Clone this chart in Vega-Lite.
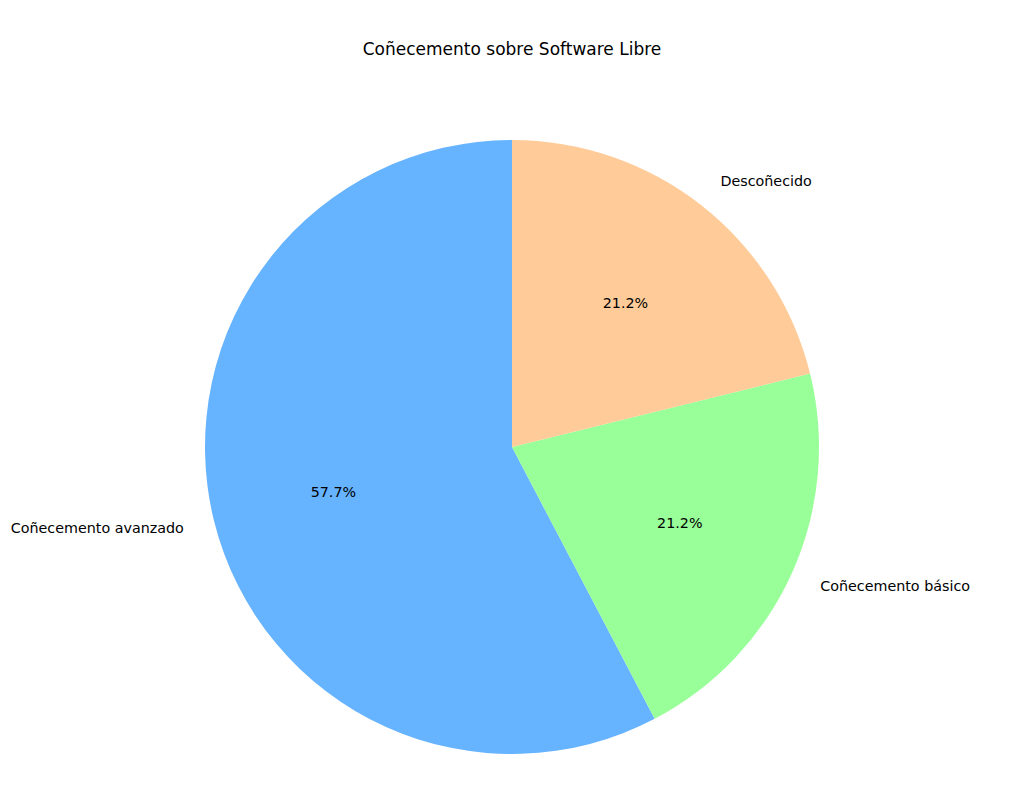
{
  "$schema": "https://vega.github.io/schema/vega-lite/v6.json",
  "description": "Pie chart: Coñecemento sobre Software Libre",
  "width": 1024,
  "height": 680,
  "autosize": {"type": "none"},
  "padding": {"top": 107, "left": 0, "right": 0, "bottom": 0},
  "background": "white",
  "title": {
    "text": "Coñecemento sobre Software Libre",
    "font": "DejaVu Sans",
    "fontSize": 17,
    "fontWeight": "normal",
    "color": "#000000",
    "anchor": "middle",
    "offset": 48.5
  },
  "data": {
    "values": [
      {"category": "Coñecemento avanzado", "value": 30, "pct": "57.7%", "side": "left"},
      {"category": "Coñecemento básico", "value": 11, "pct": "21.2%", "side": "right"},
      {"category": "Descoñecido", "value": 11, "pct": "21.2%", "side": "right"}
    ]
  },
  "encoding": {
    "theta": {"field": "value", "type": "quantitative", "stack": true},
    "order": {"field": "category", "sort": "descending"}
  },
  "layer": [
    {
      "mark": {"type": "arc", "outerRadius": 307, "stroke": null},
      "encoding": {
        "color": {
          "field": "category",
          "type": "nominal",
          "scale": {
            "domain": ["Coñecemento avanzado", "Coñecemento básico", "Descoñecido"],
            "range": ["#66b3ff", "#99ff99", "#ffcc99"]
          },
          "legend": null
        }
      }
    },
    {
      "mark": {"type": "text", "radius": 184, "dy": 1.5, "font": "DejaVu Sans", "fontSize": 14.3, "color": "#000000", "align": "center", "baseline": "middle"},
      "encoding": {"text": {"field": "pct", "type": "nominal"}}
    },
    {
      "mark": {"type": "text", "radius": 338, "dy": 1.5, "font": "DejaVu Sans", "fontSize": 14.3, "color": "#000000", "align": "left", "baseline": "middle"},
      "encoding": {
        "text": {"condition": {"test": "datum.side == 'right'", "field": "category"}, "value": ""}
      }
    },
    {
      "mark": {"type": "text", "radius": 338, "dy": 1.5, "font": "DejaVu Sans", "fontSize": 14.3, "color": "#000000", "align": "right", "baseline": "middle"},
      "encoding": {
        "text": {"condition": {"test": "datum.side == 'left'", "field": "category"}, "value": ""}
      }
    }
  ],
  "config": {
    "view": {"stroke": null}
  }
}
